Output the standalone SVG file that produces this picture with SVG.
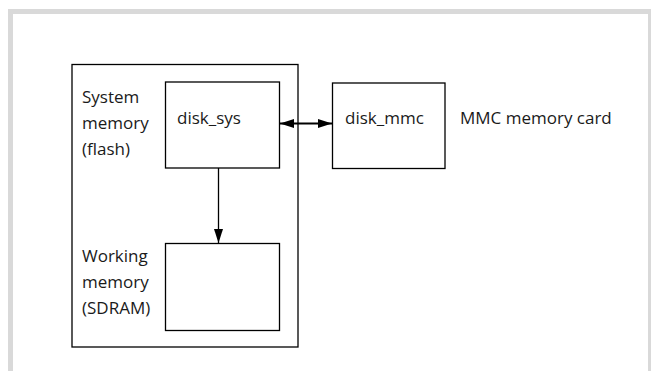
<svg xmlns="http://www.w3.org/2000/svg" width="651" height="371" viewBox="0 0 651 371">
  <style>
    .box{fill:#fff;stroke:#000;stroke-width:1.3}
    .lbl{font-family:"Open Sans","Liberation Sans",Arial,sans-serif;font-size:17px;fill:#1a1a1a}
    .frame{fill:#d9d9d9}
    .conn{stroke:#000;fill:none}
  </style>
  <defs>
    <marker id="ah" viewBox="0 0 14 9" refX="14" refY="4.5" markerWidth="14" markerHeight="9" markerUnits="userSpaceOnUse" orient="auto-start-reverse">
      <path d="M0,0 L14,4.5 L0,9 Z" fill="#000"/>
    </marker>
  </defs>
  <rect width="651" height="371" fill="#fff"/>
  <g id="frame">
    <rect class="frame" x="8" y="9" width="5" height="362"/>
    <rect class="frame" x="8" y="9" width="643" height="5"/>
    <rect class="frame" x="648" y="9" width="3" height="362"/>
  </g>
  <g id="device">
    <rect class="box" x="72" y="64.5" width="226" height="282.5"/>
  </g>
  <g id="system-memory-label">
    <text class="lbl" x="82" y="103">System</text>
    <text class="lbl" x="82" y="129">memory</text>
    <text class="lbl" x="82" y="155">(flash)</text>
  </g>
  <g id="working-memory-label">
    <text class="lbl" x="82" y="262">Working</text>
    <text class="lbl" x="82" y="288">memory</text>
    <text class="lbl" x="82" y="314">(SDRAM)</text>
  </g>
  <g id="disk_sys">
    <rect class="box" x="165.5" y="82" width="114" height="86"/>
    <text class="lbl" x="177" y="124">disk_sys</text>
  </g>
  <g id="sdram">
    <rect class="box" x="165.5" y="243.5" width="114" height="87"/>
  </g>
  <g id="disk_mmc">
    <rect class="box" x="332.5" y="83" width="112.5" height="85.5"/>
    <text class="lbl" x="345" y="124">disk_mmc</text>
  </g>
  <g id="mmc-label">
    <text class="lbl" x="460" y="124">MMC memory card</text>
  </g>
  <g id="connectors">
    <line class="conn" x1="218.5" y1="168" x2="218.5" y2="243" stroke-width="1.3" marker-end="url(#ah)"/>
    <line class="conn" x1="280" y1="123.5" x2="332" y2="123.5" stroke-width="2" marker-start="url(#ah)" marker-end="url(#ah)"/>
  </g>
</svg>
